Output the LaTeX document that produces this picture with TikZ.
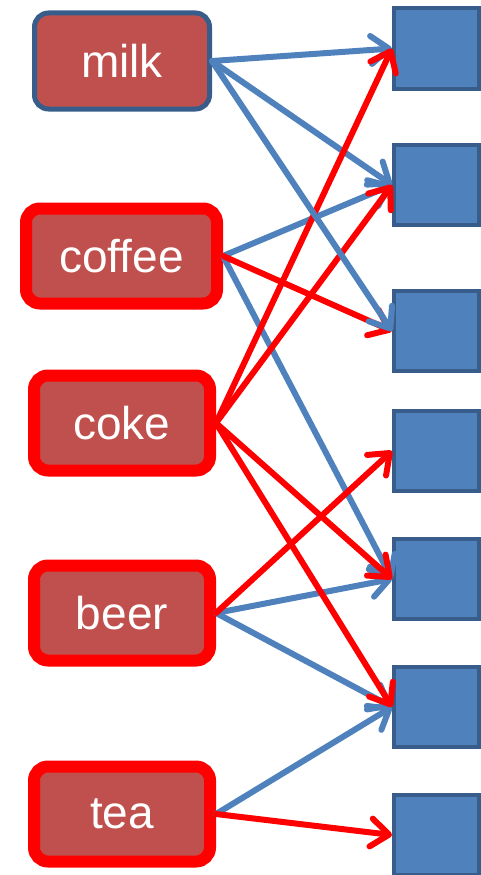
\documentclass[tikz,border=0pt]{standalone}
\usepackage{fontspec}
\setmainfont{Liberation Sans}
\usetikzlibrary{arrows.meta}
\definecolor{drinkfill}{HTML}{C0504D}
\definecolor{linkblue}{HTML}{4F81BD}
\definecolor{edgeblue}{HTML}{385D8A}
\definecolor{hotred}{HTML}{FF0000}
\tikzset{
  drink/.style={rectangle, rounded corners=14pt, fill=drinkfill, text=white,
    font=\fontsize{46}{50}\selectfont, inner sep=0pt,
    minimum width=176pt, minimum height=95pt},
  hot/.style={drink, draw=hotred, line width=12pt},
  cold/.style={drink, draw=edgeblue, line width=5pt,
    minimum width=175pt, minimum height=96pt},
  slot/.style={rectangle, fill=linkblue, draw=edgeblue, line width=4pt,
    minimum width=85pt, minimum height=80pt, inner sep=0pt},
  link/.style={line width=6pt, line cap=round,
    -{Straight Barb[length=18pt,width=28pt,round]}},
  bluelink/.style={link, draw=linkblue},
  redlink/.style={link, draw=hotred}
}
\begin{document}
\begin{tikzpicture}[x=1pt,y=-1pt]
  \useasboundingbox (0,0) rectangle (481,875);

  % drinks on the left
  \node[cold] (milk) at (122,61) {milk};
  \node[hot, minimum width=191pt] (coffee) at (121.5,256) {coffee};
  \node[hot] (coke) at (122,423) {coke};
  \node[hot] (beer) at (122,613) {beer};
  \node[hot] (tea) at (122,814) {tea};

  % target slots on the right
  \node[slot] (s1) at (436.5,48.5) {};
  \node[slot] (s2) at (436.5,185) {};
  \node[slot] (s3) at (436.5,331) {};
  \node[slot] (s4) at (436.5,451) {};
  \node[slot] (s5) at (436.5,579) {};
  \node[slot] (s6) at (436.5,707) {};
  \node[slot] (s7) at (436.5,835) {};

  % blue links
  \draw[bluelink] (milk.east) -- (s1.west);
  \draw[bluelink] (milk.east) -- (s2.west);
  \draw[bluelink] (coffee.east) -- (s2.west);
  \draw[bluelink] (coffee.east) -- (s5.west);
  \draw[bluelink] (beer.east) -- (s5.west);
  \draw[bluelink] (beer.east) -- (s6.west);
  \draw[bluelink] (tea.east) -- (s6.west);

  % red links
  \draw[redlink] (coffee.east) -- (s3.west);
  \draw[redlink] (coke.east) -- (s1.west);
  \draw[redlink] (coke.east) -- (s2.west);
  \draw[redlink] (coke.east) -- (s5.west);
  \draw[redlink] (coke.east) -- (s6.west);
  \draw[redlink] (beer.east) -- (s4.west);
  \draw[redlink] (tea.east) -- (s7.west);

  % long blue link drawn over the red ones
  \draw[bluelink] (milk.east) -- (s3.west);
\end{tikzpicture}
\end{document}
